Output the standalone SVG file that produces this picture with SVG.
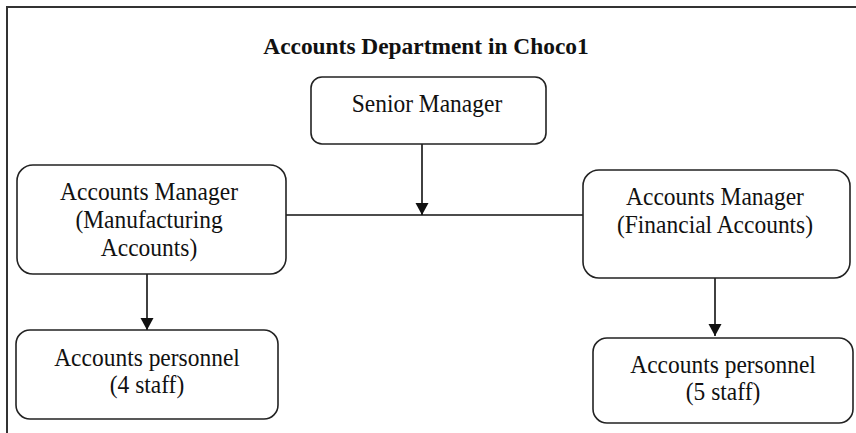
<svg xmlns="http://www.w3.org/2000/svg" width="856" height="433" viewBox="0 0 856 433">
<style>
.box{fill:#fff;stroke:#222;stroke-width:1.6}
.t{font-family:"Liberation Serif","Times New Roman",serif;font-size:25.5px;fill:#111;text-anchor:middle}
.title{font-family:"Liberation Serif","Times New Roman",serif;font-size:24px;font-weight:bold;fill:#111;text-anchor:middle}
.c{stroke:#111;stroke-width:1.6;fill:none}
.frame{stroke:#333;stroke-width:2;fill:none}
</style>
<defs>
<marker id="arr" markerUnits="userSpaceOnUse" markerWidth="14" markerHeight="14" refX="12" refY="6.5" orient="auto">
<path d="M0,0 L12,6.5 L0,13 Z" fill="#111"/>
</marker>
</defs>
<rect width="856" height="433" fill="#fff"/>
<path class="frame" d="M7,433 V7 H856"/>
<text class="title" transform="scale(0.975 1)" x="436.9" y="54">Accounts Department in Choco1</text>
<g id="connectors">
<line class="c" x1="283" y1="215" x2="583" y2="215"/>
<line class="c" x1="422" y1="144" x2="422" y2="215" marker-end="url(#arr)"/>
<line class="c" x1="147" y1="274" x2="147" y2="330" marker-end="url(#arr)"/>
<line class="c" x1="715" y1="278" x2="715" y2="336" marker-end="url(#arr)"/>
</g>
<g id="senior">
<rect class="box" x="311" y="77" width="235" height="67" rx="11"/>
<g transform="scale(0.92 1)">
<text class="t" x="464.1" y="112">Senior Manager</text>
</g>
</g>
<g id="mgr-manufacturing">
<rect class="box" x="17" y="165" width="269" height="109" rx="16"/>
<g transform="scale(0.92 1)">
<text class="t" x="162" y="200">Accounts Manager</text>
<text class="t" x="162" y="228">(Manufacturing</text>
<text class="t" x="162" y="256">Accounts)</text>
</g>
</g>
<g id="mgr-financial">
<rect class="box" x="583" y="170" width="267" height="108" rx="16"/>
<g transform="scale(0.92 1)">
<text class="t" x="777.2" y="205">Accounts Manager</text>
<text class="t" x="777.2" y="233">(Financial Accounts)</text>
</g>
</g>
<g id="personnel-4">
<rect class="box" x="16" y="330" width="262" height="89" rx="14"/>
<g transform="scale(0.92 1)">
<text class="t" x="159.8" y="366">Accounts personnel</text>
<text class="t" x="159.8" y="393">(4 staff)</text>
</g>
</g>
<g id="personnel-5">
<rect class="box" x="593" y="338" width="260" height="85" rx="14"/>
<g transform="scale(0.92 1)">
<text class="t" x="785.9" y="373">Accounts personnel</text>
<text class="t" x="785.9" y="400">(5 staff)</text>
</g>
</g>
</svg>
